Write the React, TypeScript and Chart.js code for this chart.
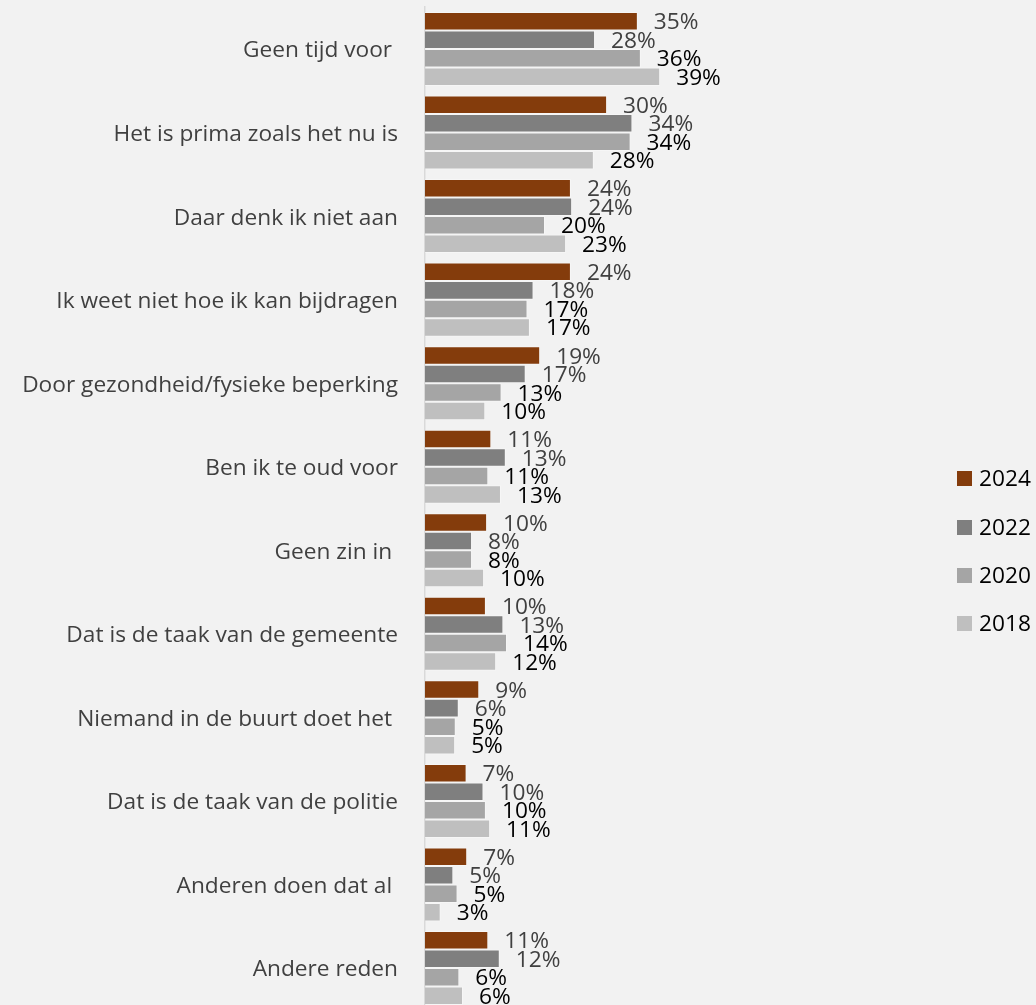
import React, { useEffect, useRef } from "react";
import { Chart, registerables } from "chart.js";

Chart.register(...registerables);

const categories = [
  "Geen tijd voor ",
  "Het is prima zoals het nu is",
  "Daar denk ik niet aan",
  "Ik weet niet hoe ik kan bijdragen",
  "Door gezondheid/fysieke beperking",
  "Ben ik te oud voor",
  "Geen zin in ",
  "Dat is de taak van de gemeente",
  "Niemand in de buurt doet het ",
  "Dat is de taak van de politie",
  "Anderen doen dat al ",
  "Andere reden",
];

const seriesNames = ["2024", "2022", "2020", "2018"];
const v2024 = [35.3, 30.2, 24.2, 24.2, 19.1, 11.0, 10.3, 10.1, 9.0, 6.9, 7.0, 10.5];
const v2022 = [28.2, 34.4, 24.4, 18.0, 16.7, 13.4, 7.8, 13.0, 5.6, 9.7, 4.7, 12.4];
const v2020 = [35.8, 34.1, 19.9, 17.0, 12.7, 10.5, 7.8, 13.6, 5.1, 10.1, 5.4, 5.7];
const v2018 = [39.0, 28.0, 23.4, 17.4, 10.0, 12.6, 9.8, 11.8, 5.0, 10.8, 2.6, 6.3];

const l2024 = ["35%", "30%", "24%", "24%", "19%", "11%", "10%", "10%", "9%", "7%", "7%", "11%"];
const l2022 = ["28%", "34%", "24%", "18%", "17%", "13%", "8%", "13%", "6%", "10%", "5%", "12%"];
const l2020 = ["36%", "34%", "20%", "17%", "13%", "11%", "8%", "14%", "5%", "10%", "5%", "6%"];
const l2018 = ["39%", "28%", "23%", "17%", "10%", "13%", "10%", "12%", "5%", "11%", "3%", "6%"];

const colors = ["#843C0C", "#7F7F7F", "#A5A5A5", "#BFBFBF"];
const labelColors = ["#404040", "#404040", "#000000", "#000000"];
const FONT = "'Open Sans', 'Noto Sans', sans-serif";
const FONT_SIZE = 22.7;

const valueLabelPlugin = {
  id: "valueLabels",
  afterDatasetsDraw(chart: any) {
    const ctx = chart.ctx;
    const allLabels = [l2024, l2022, l2020, l2018];
    ctx.save();
    ctx.font = `${FONT_SIZE}px ${FONT}`;
    ctx.textAlign = "left";
    ctx.textBaseline = "alphabetic";
    chart.data.datasets.forEach((ds: any, di: number) => {
      const meta = chart.getDatasetMeta(di);
      ctx.fillStyle = labelColors[di];
      meta.data.forEach((el: any, i: number) => {
        ctx.fillText(allLabels[di][i], el.x + 16, el.y + 0.357 * FONT_SIZE);
      });
    });
    ctx.restore();
  },
};

export default function App() {
  const ref = useRef<HTMLCanvasElement>(null);

  useEffect(() => {
    if (!ref.current) return;
    const values = [v2024, v2022, v2020, v2018];
    const chart = new Chart(ref.current, {
      type: "bar",
      data: {
        labels: categories,
        datasets: seriesNames.map((name, i) => ({
          label: name,
          data: values[i],
          backgroundColor: colors[i],
          borderColor: "rgba(255,255,255,0.35)",
          borderWidth: 1,
          barPercentage: 1,
          categoryPercentage: 0.886,
        })),
      },
      options: {
        indexAxis: "y",
        animation: false,
        responsive: false,
        maintainAspectRatio: false,
        layout: { padding: { top: 7.2, bottom: 20.2, left: 0, right: 8 } },
        plugins: {
          legend: { display: false },
          tooltip: { enabled: false },
        },
        scales: {
          x: {
            display: false,
            min: 0,
            max: 100,
          },
          y: {
            afterFit: (scale: any) => {
              scale.width = 425;
              scale.paddingTop = 0;
              scale.paddingBottom = 0;
            },
            grid: { display: false, drawTicks: false },
            border: { display: true, color: "#D9D9D9", width: 1.5 },
            ticks: {
              padding: 27,
              labelOffset: 2,
              color: "#404040",
              font: { family: FONT, size: FONT_SIZE },
              autoSkip: false,
            },
          },
        },
      },
      plugins: [valueLabelPlugin],
    });
    return () => chart.destroy();
  }, []);

  const legendTops = [478.3, 527.3, 575.3, 623.3];

  return (
    <div
      style={{
        position: "absolute",
        left: 0,
        top: 0,
        width: 1036,
        height: 1005,
        overflow: "hidden",
        background: "#F2F2F2",
      }}
    >
      <canvas ref={ref} width={1036} height={1030} style={{ position: "absolute", left: 0, top: 0 }} />
      {seriesNames.map((name, i) => (
        <div
          key={name}
          style={{
            position: "absolute",
            left: 957,
            top: legendTops[i] - 15,
            height: 30,
            display: "flex",
            alignItems: "center",
            fontFamily: FONT,
            fontSize: FONT_SIZE,
            lineHeight: "30px",
            color: "#000000",
            whiteSpace: "nowrap",
          }}
        >
          <span style={{ display: "inline-block", width: 15, height: 15, background: colors[i], marginRight: 7 }} />
          <span>{name}</span>
        </div>
      ))}
    </div>
  );
}
